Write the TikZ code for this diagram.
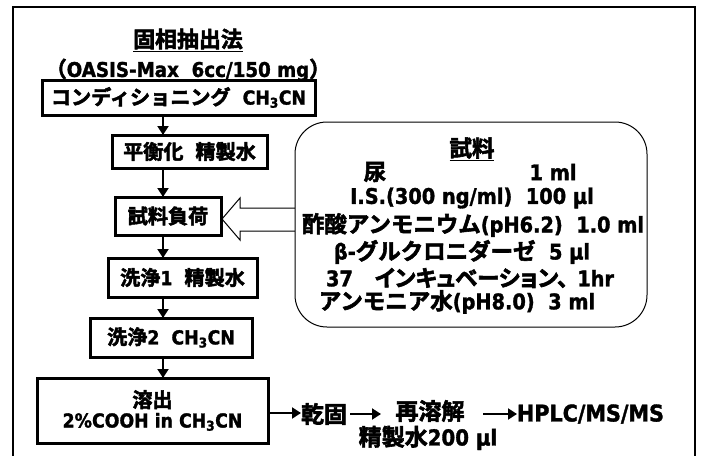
\documentclass[tikz,border=0pt]{standalone}
\usepackage{fontspec}
\setmainfont{DejaVu Sans Bold}[FakeBold=1.5,FakeStretch=0.9]
\newfontfamily\cjk{Noto Sans CJK JP Bold}[Scale=1.045,FakeBold=2.5]
\newfontfamily\cjkp{Noto Sans CJK JP Bold}[Scale=1.045,FakeBold=2.5,RawFeature=+palt]
\usetikzlibrary{arrows.meta}
\newcommand\J[1]{{\cjk #1}}
\newcommand\JP[1]{{\cjkp #1}}
\newcommand\fs[1]{\fontsize{#1}{#1}\selectfont}
\begin{document}
\begin{tikzpicture}[x=1pt,y=-1pt,
  every node/.style={inner sep=0pt,outer sep=0pt},
  stepbox/.style={draw,line width=3pt,inner sep=0pt,font=\fs{19.25}},
  arr/.style={-{Triangle[length=9pt,width=11pt]},line width=2pt},
  frameline/.style={line width=2pt},
  bigarrow/.style={draw,line width=1pt,fill=white,line join=miter},
  sample/.style={font=\fs{21.5}},
  tail/.style={font=\fs{22}}]
\useasboundingbox (0,0) rectangle (701,455);
% outer frame (open at the bottom)
\draw[frameline] (13,456) -- (13,7) -- (695,7) -- (695,456);
% titles
\node[font=\fs{21}] (title) at (188,40) {\underline{\J{固相抽出法}}};
\node[font=\fs{20.3}] (oasis) at (188,70) {\J{（}OASIS-Max\ \ 6cc/150 mg\J{）}};
% flow boxes
\node[stepbox,minimum width=273,minimum height=35] (b1) at (178.5,97.5) {\J{コンディショニング}\ \ CH\textsubscript{3}CN};
\node[stepbox,minimum width=155,minimum height=33] (b2) at (189.5,151.5) {\J{平衡化}\ \ \J{精製水}};
\node[stepbox,minimum width=106,minimum height=38] (b3) at (168,216) {\J{試料負荷}};
\node[stepbox,minimum width=149,minimum height=39] (b4) at (182.5,277.5) {\J{洗浄}1\ \ \J{精製水}};
\node[stepbox,minimum width=162,minimum height=39] (b5) at (171,337.5) {\J{洗浄}2\ \ CH\textsubscript{3}CN};
\node[stepbox,minimum width=231,minimum height=65,align=center] (b6) at (152.5,410.5) {\J{溶出}\\[1pt]2\%COOH in CH\textsubscript{3}CN};
\coordinate (ax) at (163,0);
\draw[arr] (b1.south -| ax) -- (b2.north -| ax);
\draw[arr] (b2.south -| ax) -- (b3.north -| ax);
\draw[arr] (b3.south -| ax) -- (b4.north -| ax);
\draw[arr] (b4.south -| ax) -- (b5.north -| ax);
\draw[arr] (b5.south -| ax) -- (b6.north -| ax);
% sample box with block arrow
\draw[bigarrow] (222,219) -- (240,198) -- (240,208) -- (296,208) -- (296,231) -- (240,231) -- (240,240) -- cycle;
\node[draw,line width=1pt,rounded corners=32pt,minimum width=352,minimum height=205,fill=white] (sbox) at (471,224.5) {};
\node[sample] (s0) at (472,149) {\underline{\J{試料}}};
\node[sample] (s1a) at (375,172) {\J{尿}};
\node[sample] (s1b) at (553,172) {1 ml};
\node[sample] (s2) at (472,198) {I.S.(300 ng/ml)\ \ 100 µl};
\node[sample] (s3) at (473,225) {\J{酢酸アンモニウム}(pH6.2)\ \ 1.0 ml};
\node[sample] (s4) at (462,252) {β-\J{グルクロニダーゼ}\ \ 5 µl};
\node[sample] (s5) at (470,278) {37\hspace{22pt}\JP{インキュベーション、}\hspace{9pt}1hr};
\node[sample] (s6) at (457,302) {\J{アンモニア水}(pH8.0)\ \ 3 ml};
% bottom row
\node[tail] (dry) at (324,414) {\J{乾固}};
\node[tail] (redis) at (430,411) {\J{再溶解}};
\node[tail] (water) at (428,438) {\J{精製水}200 µl};
\node[font=\fs{23},anchor=west] (hplc) at (517,414) {HPLC/MS/MS};
\coordinate (r1) at (350,414);
\coordinate (r2) at (381,414);
\coordinate (r3) at (483,414);
\draw[arr] (b6.east |- 0,413) -- (dry.west |- 0,413);
\draw[arr] (r1) -- (r2);
\draw[arr] (r3) -- (hplc.west);
\end{tikzpicture}
\end{document}
